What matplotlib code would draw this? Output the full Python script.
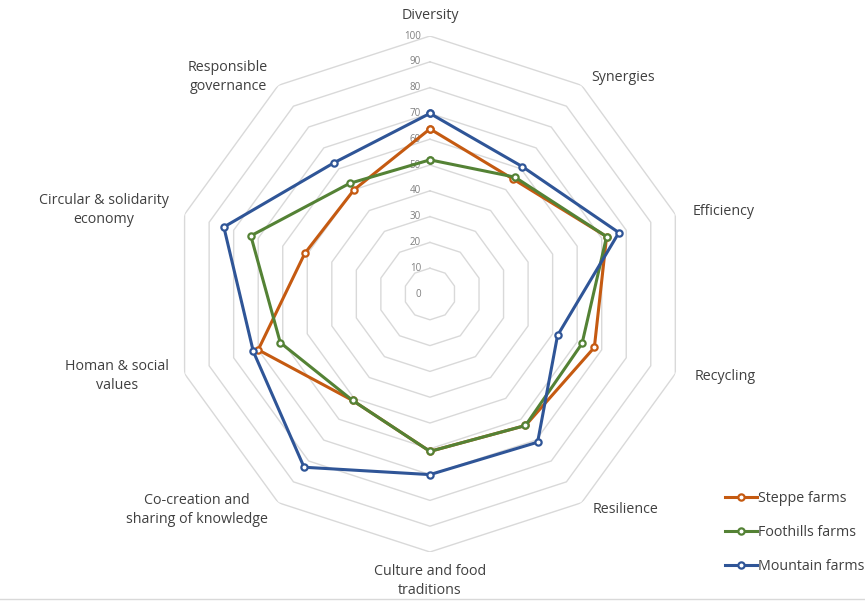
import numpy as np
import matplotlib.pyplot as plt

# Kategori sumbu radar (searah jarum jam mulai dari atas)
categories = ['Diversity', 'Synergies', 'Efficiency', 'Recycling', 'Resilience',
              'Culture and food\ntraditions', 'Co-creation and\nsharing of knowledge',
              'Homan & social\nvalues', 'Circular & solidarity\neconomy',
              'Responsible\ngovernance']

steppe = [64, 55, 72, 67, 63, 61, 51, 70, 51, 50]
foothills = [52, 56, 72, 62, 63, 61, 51, 61, 73, 53]
mountain = [70, 61, 77, 52, 71, 70, 83, 72, 84, 63]

series_names = ['Steppe farms', 'Foothills farms', 'Mountain farms']
ticks = list(range(0, 101, 10))

plt.rcParams['font.family'] = ['Open Sans', 'DejaVu Sans']

fig = plt.figure(figsize=(8.65, 6.01), dpi=100)
ax = fig.add_axes([0.1988, 0.0815, 0.5965, 0.8586], projection='polar')
ax.set_theta_zero_location('N')
ax.set_theta_direction(-1)
ax.set_ylim(0, 100)
ax.grid(False)
ax.spines['polar'].set_visible(False)
ax.set_xticks([])
ax.set_yticks([])
ax.patch.set_alpha(0)

n = len(categories)
theta = np.linspace(0, 2 * np.pi, n, endpoint=False)
theta_c = np.append(theta, theta[0])

# Grid berbentuk dekagon
for t in ticks[1:]:
    ax.plot(theta_c, [t] * (n + 1), color='#D9D9D9', lw=1.0, zorder=1)

for t in ticks:
    ax.annotate(str(t), xy=(0, t), xytext=(-9, 0), textcoords='offset pixels',
                ha='right', va='center', fontsize=7, color='#7F7F7F')

colors = ['#C55A11', '#548235', '#2F5597']
for vals, name, c in zip([steppe, foothills, mountain], series_names, colors):
    v = np.append(vals, vals[0])
    ax.plot(theta_c, v, color=c, lw=2.2, marker='o', markersize=4.5,
            markerfacecolor='white', markeredgecolor=c, markeredgewidth=1.6,
            label=name, zorder=3)

# Posisi label kategori (offset piksel dari titik 100)
offsets = [(0, 13, 'center', 'bottom'), (10, 8, 'left', 'center'),
           (17, 3, 'left', 'center'), (19, -3, 'left', 'center'),
           (11, -7, 'left', 'center'), (0, -12, 'center', 'top'),
           (-10, -7, 'right', 'center'), (-16, -2, 'right', 'center'),
           (-16, 4, 'right', 'center'), (-10, 8, 'right', 'center')]
for th, lab, (dx, dy, ha, va) in zip(theta, categories, offsets):
    ax.annotate(lab, xy=(th, 100), xytext=(dx, dy), textcoords='offset pixels',
                ha=ha, va=va, multialignment='center', fontsize=10.3,
                color='#404040', linespacing=1.35)

leg = fig.legend(loc='upper left', bbox_to_anchor=(0.832, 0.192), frameon=False,
                 fontsize=10.3, labelspacing=1.3, handlelength=2.2,
                 handletextpad=0.1, borderaxespad=0)
for txt in leg.get_texts():
    txt.set_color('#404040')

fig.add_artist(plt.Line2D([0, 1], [0.004, 0.004], color='#D9D9D9', lw=1))

fig.savefig('out.png', dpi=100)
